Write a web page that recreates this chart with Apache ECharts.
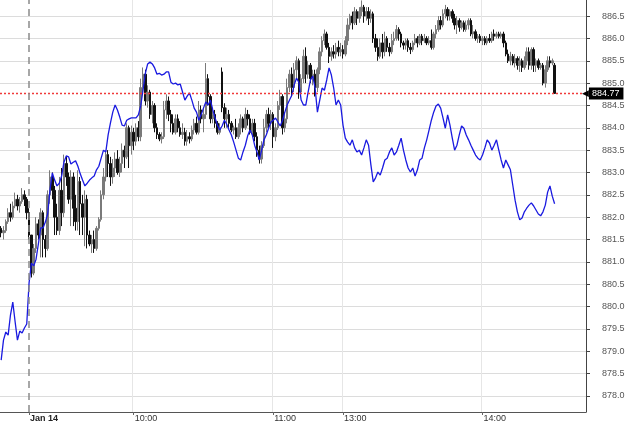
<!DOCTYPE html>
<html><head><meta charset="utf-8">
<script src="https://cdn.jsdelivr.net/npm/echarts@6/dist/echarts.min.js"></script>
<style>html,body{margin:0;padding:0;background:#fff}#c{width:630px;height:424px}</style>
</head><body><div id="c"></div>
<script>
// trading sessions shown on the category axis: [day, startMinute, endMinute]
const sessions = [['Jan 13', 15*60+3, 15*60+14], ['Jan 14', 9*60+15, 11*60+29], ['Jan 14', 13*60, 14*60+44]];
const tickCategories = ['Jan 14 09:15', 'Jan 14 10:00', 'Jan 14 11:00', 'Jan 14 13:00', 'Jan 14 14:00'];
const tickLabels = ['Jan 14', '10:00', '11:00', '13:00', '14:00'];
const lastPrice = 884.77;
const lastBlue = 882.3;

// one-minute candles: [open, close, low, high]
const candles = [
[881.75,881.65,881.55,881.8],[881.65,881.7,881.5,881.8],[881.7,881.9,881.65,881.95],[881.9,882.1,881.85,882.2],
[882.1,882.0,881.9,882.3],[882.0,882.25,881.95,882.35],[882.25,882.4,882.2,882.55],[882.4,882.25,882.15,882.5],
[882.25,882.35,882.1,882.45],[882.35,882.5,882.3,882.65],[882.5,882.4,882.25,882.6],[882.4,882.1,881.95,882.45],
[882.1,881.6,881.5,882.2],[881.6,880.75,880.65,881.6],[880.75,881.3,880.7,881.4],[881.3,881.85,881.2,882.0],
[881.85,881.6,881.5,881.95],[881.6,882.1,881.1,882.2],[882.1,881.5,881.1,882.15],[881.5,881.3,881.1,881.6],
[881.3,882.5,881.25,882.6],[882.5,882.9,882.3,883.05],[882.9,882.6,882.4,883.0],[882.6,882.0,881.6,882.7],
[882.0,881.7,881.6,882.3],[881.7,882.6,881.6,882.9],[882.6,882.1,881.8,883.1],[882.1,883.2,882.0,883.4],
[883.2,882.9,882.7,883.35],[882.9,882.4,882.3,883.0],[882.4,882.9,881.8,883.05],[882.9,882.2,881.8,883.0],
[882.2,881.9,881.7,882.5],[881.9,882.8,881.7,883.05],[882.8,882.3,881.6,882.9],[882.3,882.0,881.6,882.5],
[882.0,882.4,881.35,882.6],[882.4,881.6,881.3,882.5],[881.6,881.4,881.35,881.7],[881.4,881.5,881.2,881.6],
[881.5,881.3,881.2,881.7],[881.3,881.75,881.25,881.8],[881.75,881.95,881.7,882.0],[881.95,882.5,881.9,882.6],
[882.5,882.9,882.4,883.1],[882.9,883.4,882.8,883.5],[883.4,883.2,882.9,883.5],[883.2,882.9,882.7,883.35],
[882.9,883.1,882.75,883.3],[883.1,883.3,882.9,883.45],[883.3,883.0,882.95,883.5],[883.0,883.2,882.9,883.35],
[883.2,883.5,883.0,883.65],[883.5,883.35,883.1,883.6],[883.35,884.0,883.3,884.1],[884.0,883.6,883.1,884.05],
[883.6,883.9,883.4,884.05],[883.9,883.7,883.5,884.0],[883.7,884.0,883.6,884.1],[884.0,883.8,883.7,884.15],
[883.8,884.9,883.7,885.1],[884.9,885.2,884.8,885.35],[885.2,884.6,884.5,885.3],[884.6,884.8,884.45,884.95],
[884.8,884.3,884.2,884.85],[884.3,884.5,884.1,884.6],[884.5,884.0,883.9,884.55],[884.0,883.85,883.75,884.1],
[883.85,883.75,883.7,883.9],[883.75,883.8,883.65,883.9],[883.8,884.4,883.75,884.6],[884.4,884.6,884.2,884.75],
[884.6,884.3,884.15,884.7],[884.3,884.1,883.9,884.4],[884.1,883.9,883.85,884.3],[883.9,884.2,883.85,884.3],
[884.2,884.0,883.9,884.3],[884.0,883.85,883.8,884.15],[883.85,883.9,883.75,884.1],[883.9,883.7,883.6,884.0],
[883.7,883.8,883.6,883.95],[883.8,883.75,883.65,883.9],[883.75,883.95,883.7,884.05],[883.95,884.1,883.85,884.2],
[884.1,883.9,883.85,884.25],[883.9,884.4,883.85,884.6],[884.4,884.2,884.1,884.5],[884.2,884.3,883.9,884.45],
[884.3,885.1,884.2,885.45],[885.1,884.7,884.5,885.2],[884.7,884.2,884.1,884.75],[884.2,884.3,884.1,884.45],
[884.3,884.1,884.0,884.4],[884.1,883.9,883.85,884.15],[883.9,884.0,883.85,884.1],[885.25,884.45,884.35,885.35],
[884.45,884.2,884.0,884.55],[884.2,884.3,884.0,884.45],[884.3,884.1,884.0,884.4],[884.1,883.95,883.9,884.15],
[883.95,884.0,883.85,884.05],[884.0,883.8,883.75,884.2],[883.8,884.0,883.75,884.1],[884.0,884.2,883.85,884.3],
[884.2,884.0,883.9,884.25],[884.0,884.3,883.95,884.45],[884.3,884.2,884.05,884.4],[884.2,883.9,883.85,884.3],
[883.9,884.1,883.8,884.2],[884.1,883.8,883.7,884.2],[883.8,883.5,883.35,883.9],[883.5,883.3,883.2,883.6],
[883.3,883.6,883.2,883.7],[883.6,884.0,883.55,884.2],[884.0,884.3,883.9,884.4],[884.3,884.1,884.0,884.45],
[884.1,884.3,883.95,884.4],[884.3,883.8,883.55,884.35],[883.8,884.0,883.7,884.1],[884.0,884.5,883.95,884.6],
[884.5,884.7,884.4,884.85],[884.7,884.0,883.85,884.75],[884.0,884.2,883.9,884.35],[884.2,884.9,884.1,885.1],
[884.9,885.2,884.8,885.3],[885.2,884.9,884.7,885.35],[884.9,885.3,884.8,885.45],[885.3,885.5,885.1,885.6],
[885.5,884.8,884.65,885.55],[884.8,885.1,884.7,885.2],[885.1,885.6,885.0,885.75],[885.6,885.2,885.0,885.8],
[885.2,885.4,885.1,885.5],[885.4,885.1,885.0,885.45],[885.1,885.2,884.95,885.3],[885.2,884.9,884.7,885.3],
[884.9,885.3,884.8,885.35],[885.3,885.7,885.2,885.8],[885.7,885.95,885.6,886.05],[885.95,886.1,885.85,886.2],
[886.1,885.8,885.75,886.15],[885.8,885.6,885.45,885.9],[885.6,885.7,885.5,885.8],[885.7,885.65,885.55,885.85],
[885.65,885.8,885.55,885.9],[885.8,885.7,885.6,885.95],[885.7,885.75,885.6,885.9],[885.75,885.65,885.55,885.85],
[885.65,885.95,885.6,886.05],[885.95,886.3,885.85,886.45],[886.3,886.5,886.2,886.55],[886.5,886.35,886.2,886.6],
[886.35,886.6,886.3,886.7],[886.6,886.45,886.3,886.65],[886.45,886.6,886.35,886.7],[886.6,886.7,886.5,886.85],
[886.7,886.5,886.35,886.75],[886.5,886.6,886.4,886.7],[886.6,886.45,886.3,886.7],[886.45,886.55,886.35,886.65],
[886.55,886.0,885.9,886.6],[886.0,885.8,885.7,886.1],[885.8,885.6,885.5,886.0],[885.6,885.9,885.55,886.0],
[885.9,885.7,885.55,886.1],[885.7,886.0,885.6,886.15],[886.0,885.8,885.7,886.05],[885.8,885.7,885.6,885.9],
[885.7,885.95,885.65,886.1],[885.95,886.0,885.85,886.15],[886.0,886.2,885.95,886.3],[886.2,886.1,885.95,886.25],
[886.1,885.9,885.8,886.15],[885.9,885.85,885.75,885.95],[885.85,885.95,885.75,886.0],[885.95,885.8,885.7,886.0],
[885.8,885.75,885.65,885.9],[885.75,885.9,885.7,885.95],[885.9,886.0,885.85,886.1],[886.0,885.9,885.8,886.05],
[885.9,886.05,885.85,886.1],[886.05,885.95,885.85,886.1],[885.95,886.0,885.9,886.1],[886.0,885.9,885.85,886.05],
[885.9,885.95,885.85,886.05],[885.95,885.8,885.75,886.2],[885.8,886.1,885.75,886.15],[886.1,886.2,886.0,886.3],
[886.2,886.4,886.15,886.5],[886.4,886.3,886.2,886.5],[886.3,886.55,886.25,886.65],[886.55,886.65,886.45,886.75],
[886.65,886.5,886.4,886.7],[886.5,886.6,886.4,886.65],[886.6,886.45,886.35,886.65],[886.45,886.3,886.2,886.55],
[886.3,886.4,886.1,886.5],[886.4,886.25,886.15,886.45],[886.25,886.35,886.2,886.4],[886.35,886.2,886.15,886.4],
[886.2,886.3,886.15,886.4],[886.3,886.4,886.2,886.45],[886.4,886.1,886.05,886.45],[886.1,886.15,886.0,886.3],
[886.15,886.0,885.95,886.2],[886.0,886.05,885.9,886.1],[886.05,885.95,885.9,886.1],[885.95,886.0,885.85,886.05],
[886.0,885.9,885.85,886.05],[885.9,886.0,885.85,886.05],[886.0,885.95,885.9,886.1],[885.95,886.1,885.9,886.15],
[886.1,886.05,885.95,886.2],[886.05,886.1,886.0,886.15],[886.1,886.05,886.0,886.15],[886.05,886.1,886.0,886.15],
[886.1,885.9,885.8,886.15],[885.9,885.65,885.6,885.95],[885.65,885.5,885.45,885.75],[885.5,885.6,885.4,885.7],
[885.6,885.45,885.4,885.65],[885.45,885.55,885.35,885.65],[885.55,885.4,885.3,885.6],[885.4,885.5,885.25,885.6],
[885.5,885.35,885.25,885.55],[885.35,885.5,885.3,885.6],[885.5,885.7,885.4,885.8],[885.7,885.4,885.3,885.8],
[885.4,885.75,885.3,885.8],[885.75,885.4,885.25,885.8],[885.4,885.5,885.25,885.55],[885.5,885.35,885.3,885.55],
[885.35,885.4,885.3,885.45],[885.4,885.0,884.95,885.45],[885.0,885.3,884.9,885.4],[885.3,885.5,885.25,885.6],
[885.5,885.45,885.35,885.6],[885.45,885.5,885.4,885.55],[885.4,884.77,884.77,885.45]
];

// comparison series (blue line), one value per minute
const blueLine = [
878.80,879.25,879.43,879.36,879.81,880.10,879.66,879.25,879.45,879.41,879.52,879.61,
880.53,880.97,880.91,881.06,881.40,881.76,881.76,881.89,882.07,882.61,
882.99,882.83,882.70,882.76,882.92,883.23,883.37,883.35,883.19,883.23,
883.26,883.14,882.97,882.83,882.70,882.76,882.83,882.88,882.92,883.06,
883.14,883.32,883.50,883.46,883.84,884.11,884.35,884.51,884.40,884.24,
884.06,884.04,884.17,884.20,884.22,884.22,884.22,884.29,
884.49,884.84,885.22,885.43,885.47,885.43,885.34,885.20,885.22,885.18,885.20,885.25,885.25,885.02,884.98,885.00,884.96,884.98,884.80,884.62,
884.71,884.78,884.62,884.44,884.35,884.17,884.29,884.44,884.58,884.51,884.62,884.40,884.22,884.06,883.95,884.04,884.17,884.08,883.95,883.84,
883.68,883.50,883.32,883.28,883.46,883.61,883.82,883.95,883.84,883.61,883.46,883.28,883.50,883.73,883.84,883.99,884.13,884.17,884.22,884.13,
884.04,884.17,884.35,884.51,884.62,884.73,884.96,885.11,885.02,884.62,884.51,884.51,884.80,885.07,885.16,884.89,884.35,884.62,884.89,884.84,
885.07,885.34,885.18,884.89,884.51,884.62,884.51,884.06,883.77,883.68,883.61,883.73,883.55,883.46,883.50,883.39,883.55,883.73,883.61,883.17,
882.79,882.88,883.01,882.94,883.10,883.28,883.32,883.46,883.55,883.39,883.46,883.61,883.77,883.50,883.28,883.10,883.01,883.10,882.92,883.06,
883.28,883.32,883.55,883.73,883.95,884.17,884.35,884.49,884.53,884.44,884.22,883.99,884.29,884.06,883.77,883.50,883.61,883.84,884.04,883.99,
883.84,883.73,883.61,883.50,883.39,883.32,883.28,883.39,883.55,883.73,883.66,883.50,883.61,883.73,883.50,883.28,883.10,883.28,883.17,883.06,
882.72,882.38,882.12,881.94,881.98,882.12,882.20,882.27,882.32,882.25,882.16,882.07,882.03,882.12,882.27,882.56,882.70,882.47,882.30
];

const pad = n => (n < 10 ? '0' : '') + n;
const categories = [];
sessions.forEach(([day, s, e]) => { for (let m = s; m <= e; m++) categories.push(day + ' ' + pad(Math.floor(m/60)) + ':' + pad(m%60)); });

const FONT = "'Liberation Sans', Arial, sans-serif";
const isTick = (i, v) => tickCategories.indexOf(v) >= 0;
const isGrid = (i, v) => tickCategories.indexOf(v) > 0;

const chart = echarts.init(document.getElementById('c'), null, {renderer: 'canvas'});
chart.setOption({
  animation: false,
  backgroundColor: '#ffffff',
  textStyle: {fontFamily: FONT},
  grid: {left: 0, right: 44, top: 0, bottom: 12, containLabel: false},
  xAxis: {
    type: 'category', data: categories, boundaryGap: true,
    axisLine: {show: true, lineStyle: {color: '#555', width: 1}},
    axisTick: {show: true, interval: isTick, alignWithLabel: true, length: 3, lineStyle: {color: '#666'}},
    axisLabel: {
      interval: isTick, align: 'left', margin: 2, padding: [0, 0, 0, 1],
      color: '#333', fontSize: 9, fontFamily: FONT,
      formatter: v => { const k = tickCategories.indexOf(v); return k === 0 ? '{b|' + tickLabels[0] + '}' : tickLabels[k]; },
      rich: {b: {fontWeight: 'bold', fontSize: 9, color: '#222', fontFamily: FONT}}
    },
    splitLine: {show: true, interval: isGrid, lineStyle: {color: '#e6e6e6', width: 1}}
  },
  yAxis: {
    type: 'value', position: 'right', scale: true,
    min: 877.64, max: 886.86, splitNumber: 18, minInterval: 0.5, maxInterval: 0.5,
    axisLine: {show: true, lineStyle: {color: '#444', width: 1}},
    axisTick: {show: true, length: 4, lineStyle: {color: '#444'}},
    axisLabel: {showMinLabel: false, showMaxLabel: false, margin: 16, color: '#555', fontSize: 9, fontFamily: FONT,
      formatter: v => v.toFixed(1)},
    splitLine: {show: true, showMinLine: false, showMaxLine: false, lineStyle: {color: '#dcdcdc', width: 1}}
  },
  series: [
    {
      type: 'candlestick', data: candles, barWidth: 2,
      itemStyle: {color: '#7a7a7a', color0: '#111111', borderColor: '#7a7a7a', borderColor0: '#111111', borderWidth: 1}
    },
    {
      type: 'line', data: blueLine, symbol: 'none', z: 5,
      lineStyle: {color: '#1a1ae0', width: 1.3},
      markLine: {
        symbol: 'none', silent: true, z: 6,
        data: [
          {yAxis: lastPrice, lineStyle: {color: '#f03a3a', type: [2, 2], width: 1.3, opacity: 1},
           label: {show: true, position: 'end', distance: -4, formatter: '{a|◀}{t|' + lastPrice.toFixed(2) + '}',
             rich: {a: {color: '#000', fontSize: 9, fontFamily: 'DejaVu Sans'},
                    t: {color: '#fff', backgroundColor: '#000', fontSize: 9, fontFamily: FONT, padding: [2, 4, 1, 3]}}}},
          {yAxis: lastBlue, lineStyle: {opacity: 0},
           label: {show: true, position: 'end', distance: 5, formatter: lastBlue.toFixed(1), color: '#fff',
             backgroundColor: '#2222ee', fontSize: 9, fontFamily: FONT, padding: [2, 4, 1, 3]}},
          {xAxis: tickCategories[0], lineStyle: {color: '#8a8a8a', type: [7, 5], width: 1.5}, label: {show: false}}
        ]
      }
    }
  ]
});
</script>
</body></html>
